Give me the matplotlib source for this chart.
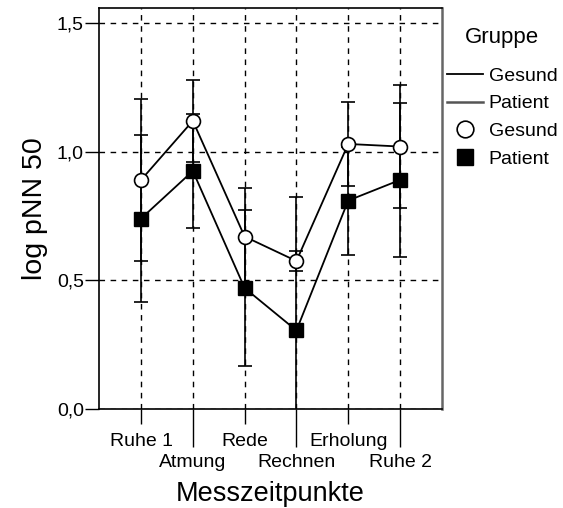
import numpy as np
from matplotlib import pyplot as plt
from matplotlib.lines import Line2D

plt.rcParams['font.family'] = ['Liberation Sans', 'DejaVu Sans']

# Data (means and error bar half-widths)
zeitpunkte = ["Ruhe 1", "Atmung", "Rede", "Rechnen", "Erholung", "Ruhe 2"]
gesund = [0.89, 1.12, 0.67, 0.575, 1.03, 1.02]
gesund_err = [0.315, 0.16, 0.19, 0.04, 0.165, 0.24]
patient = [0.74, 0.925, 0.47, 0.305, 0.81, 0.89]
patient_err = [0.325, 0.22, 0.305, 0.52, 0.21, 0.30]
y_ticks = [0.0, 0.5, 1.0, 1.5]
y_tick_labels = ["0,0", "0,5", "1,0", "1,5"]

x = np.arange(1, len(zeitpunkte) + 1)

fig = plt.figure(figsize=[5.63, 5.08], dpi=100)
ax = fig.add_axes([0.176, 0.195, 0.609, 0.789])

# dashed grid
for yy in y_ticks:
    ax.axhline(yy, color="black", lw=1, ls=(0, (4, 4)), zorder=1)
for xx in x:
    ax.axvline(xx, color="black", lw=1, ls=(0, (4, 4)), zorder=1)

# error bars
ax.errorbar(x, gesund, yerr=gesund_err, fmt="none", ecolor="black",
            elinewidth=1.2, capsize=5, capthick=1.2, zorder=2)
ax.errorbar(x, patient, yerr=patient_err, fmt="none", ecolor="black",
            elinewidth=1.2, capsize=5, capthick=1.2, zorder=2)

# means
ax.plot(x, gesund, color="black", lw=1.3, zorder=3)
ax.plot(x, patient, color="black", lw=1.3, zorder=3)
ax.plot(x, gesund, "o", ms=10, mfc="white", mec="black", mew=1.2, zorder=4)
ax.plot(x, patient, "s", ms=10.5, mfc="black", mec="black", zorder=4)

ax.set_xlim(0.19, 6.81)
ax.set_ylim(0, 1.558)
ax.set_yticks(y_ticks)
ax.set_yticklabels(y_tick_labels)
ax.tick_params(axis="y", direction="out", length=10, width=1, labelsize=14, pad=1)

# alternating x tick labels (short / long ticks)
ax.set_xticks(x[0::2])
ax.set_xticklabels(zeitpunkte[0::2])
ax.set_xticks(x[1::2], minor=True)
ax.set_xticklabels(zeitpunkte[1::2], minor=True)
ax.tick_params(axis="x", which="major", direction="out", length=11, width=1, labelsize=14, pad=6)
ax.tick_params(axis="x", which="minor", direction="out", length=27, width=1, labelsize=14, pad=5.5)

for s in ["left", "top", "bottom"]:
    ax.spines[s].set_color("black")
    ax.spines[s].set_linewidth(1.2)
ax.spines["right"].set_color("#666666")
ax.spines["right"].set_linewidth(1.8)

ax.set_xlabel("Messzeitpunkte", fontsize=19.5, labelpad=7)
ax.set_ylabel("log pNN 50", fontsize=20.5, labelpad=6)

handles = [
    Line2D([], [], color="black", lw=1.3),
    Line2D([], [], color="#555555", lw=1.8),
    Line2D([], [], ls="none", marker="o", ms=12, mfc="white", mec="black", mew=1.2),
    Line2D([], [], ls="none", marker="s", ms=12, mfc="black", mec="black"),
]
fig.text(502 / 563, 1 - 38 / 508, "Gruppe", fontsize=16, ha="center", va="center")
fig.legend(handles, ["Gesund", "Patient", "Gesund", "Patient"],
           loc="upper left", bbox_to_anchor=(447 / 563, 1 - 67 / 508), frameon=False,
           fontsize=14, handlelength=1.85, handletextpad=0.3,
           labelspacing=0.52, borderaxespad=0, borderpad=0)

fig.savefig("out.png", dpi=100)
